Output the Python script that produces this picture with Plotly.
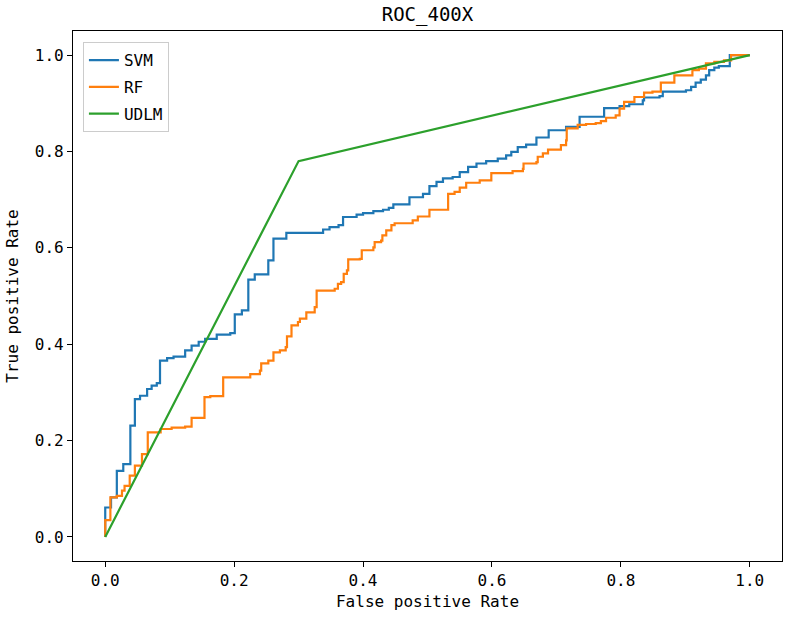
import plotly.graph_objects as go

# SVM ROC step points (fpr at jump, tpr after jump)
svm_fpr = [0, 0, 0.009, 0.018, 0.028, 0.039, 0.046, 0.054, 0.065, 0.072, 0.080, 0.085, 0.096, 0.106,
           0.124, 0.134, 0.145, 0.155, 0.173, 0.194, 0.201, 0.212, 0.222, 0.232, 0.253, 0.261, 0.281,
           0.338, 0.348, 0.362, 0.369, 0.390, 0.400, 0.416, 0.431, 0.440, 0.447, 0.472, 0.493, 0.503,
           0.514, 0.524, 0.539, 0.550, 0.563, 0.576, 0.591, 0.609, 0.622, 0.630, 0.640, 0.653, 0.669,
           0.688, 0.715, 0.736, 0.774, 0.798, 0.813, 0.834, 0.836, 0.860, 0.865, 0.901, 0.909, 0.916,
           0.924, 0.932, 0.937, 0.945, 0.952, 0.969, 1.0]
svm_tpr = [0, 0.061, 0.082, 0.137, 0.151, 0.231, 0.286, 0.293, 0.307, 0.314, 0.319, 0.366, 0.371, 0.374,
           0.387, 0.397, 0.405, 0.411, 0.420, 0.423, 0.462, 0.470, 0.534, 0.545, 0.574, 0.619, 0.631,
           0.638, 0.643, 0.647, 0.664, 0.669, 0.672, 0.676, 0.679, 0.683, 0.690, 0.705, 0.712, 0.728,
           0.737, 0.744, 0.747, 0.757, 0.768, 0.775, 0.780, 0.785, 0.792, 0.799, 0.809, 0.814, 0.829,
           0.844, 0.851, 0.872, 0.890, 0.894, 0.898, 0.906, 0.912, 0.915, 0.924, 0.927, 0.934, 0.943,
           0.949, 0.958, 0.969, 0.974, 0.977, 1.0, 1.0]

# RF ROC step points
rf_fpr = [0, 0, 0.008, 0.018, 0.026, 0.030, 0.038, 0.046, 0.057, 0.066, 0.086, 0.103, 0.124, 0.134,
          0.154, 0.163, 0.183, 0.225, 0.240, 0.242, 0.253, 0.261, 0.271, 0.280, 0.282, 0.289, 0.299,
          0.302, 0.312, 0.325, 0.328, 0.356, 0.361, 0.366, 0.370, 0.375, 0.377, 0.395, 0.398, 0.416,
          0.418, 0.428, 0.430, 0.436, 0.444, 0.449, 0.477, 0.485, 0.503, 0.532, 0.542, 0.550, 0.560,
          0.581, 0.599, 0.632, 0.648, 0.649, 0.669, 0.671, 0.679, 0.687, 0.707, 0.715, 0.716, 0.733,
          0.746, 0.761, 0.769, 0.777, 0.792, 0.798, 0.805, 0.821, 0.836, 0.849, 0.862, 0.883, 0.911,
          0.921, 0.932, 0.945, 0.960, 0.971, 1.0]
rf_tpr = [0, 0.035, 0.082, 0.085, 0.096, 0.106, 0.127, 0.148, 0.172, 0.217, 0.224, 0.227, 0.229, 0.247,
          0.290, 0.292, 0.331, 0.338, 0.345, 0.360, 0.366, 0.383, 0.387, 0.394, 0.416, 0.439, 0.446,
          0.453, 0.466, 0.477, 0.511, 0.515, 0.525, 0.529, 0.546, 0.553, 0.576, 0.577, 0.595, 0.601,
          0.612, 0.615, 0.626, 0.636, 0.647, 0.651, 0.657, 0.665, 0.679, 0.712, 0.716, 0.725, 0.735,
          0.740, 0.755, 0.759, 0.764, 0.775, 0.778, 0.789, 0.796, 0.804, 0.813, 0.823, 0.848, 0.855,
          0.857, 0.859, 0.863, 0.870, 0.875, 0.889, 0.903, 0.913, 0.922, 0.924, 0.943, 0.958, 0.969,
          0.972, 0.983, 0.986, 0.989, 1.0, 1.0]

# UDLM ROC points
udlm_fpr = [0, 0.30, 1.0]
udlm_tpr = [0, 0.78, 1.0]

tick_vals = [0.0, 0.2, 0.4, 0.6, 0.8, 1.0]
tick_text = ["0.0", "0.2", "0.4", "0.6", "0.8", "1.0"]

FONT = "DejaVu Sans Mono"

fig = go.Figure()
fig.add_trace(go.Scatter(x=svm_fpr, y=svm_tpr, mode="lines", name="SVM", legendgroup="a",
                         line=dict(color="#1f77b4", width=2.2, shape="hv")))
fig.add_trace(go.Scatter(x=rf_fpr, y=rf_tpr, mode="lines", name="RF", legendgroup="b",
                         line=dict(color="#ff7f0e", width=2.2, shape="hv")))
fig.add_trace(go.Scatter(x=udlm_fpr, y=udlm_tpr, mode="lines", name="UDLM", legendgroup="c",
                         line=dict(color="#2ca02c", width=2.2)))

axis_common = dict(
    showgrid=False, zeroline=False, showline=True, linecolor="black", linewidth=1.2,
    mirror=True, ticks="outside", ticklen=5, tickwidth=1.2, tickcolor="black",
    tickvals=tick_vals, ticktext=tick_text, automargin=False,
    tickfont=dict(family=FONT, size=16, color="black"),
)

fig.update_layout(
    width=786, height=618,
    margin=dict(l=73, r=4, t=31, b=57),
    paper_bgcolor="white", plot_bgcolor="white",
    title=dict(text="ROC_400X", x=(73 + 782) / 2 / 786, xanchor="center",
               y=1 - 14 / 618, yanchor="middle",
               font=dict(family=FONT, size=19, color="black")),
    xaxis=dict(range=[-0.05, 1.05], **axis_common,
               title=dict(text="False positive Rate", standoff=6,
                          font=dict(family=FONT, size=16, color="black"))),
    yaxis=dict(range=[-0.05, 1.05], **axis_common,
               title=dict(text="True positive Rate", standoff=12,
                          font=dict(family=FONT, size=16, color="black"))),
    legend=dict(x=0.014, y=0.979, xanchor="left", yanchor="top",
                bgcolor="rgba(255,255,255,0.8)", bordercolor="#cccccc", borderwidth=1,
                font=dict(family=FONT, size=16, color="black"),
                tracegroupgap=3, itemwidth=30),
    showlegend=True,
)

fig.write_html("out.html", config={"displayModeBar": False},
               post_script="document.body.style.margin='0px';document.body.style.overflow='hidden';")
